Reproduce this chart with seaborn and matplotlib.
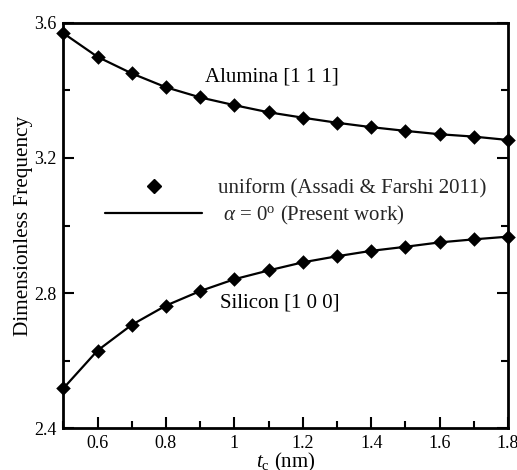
import matplotlib
matplotlib.use("Agg")
import matplotlib.pyplot as plt
import seaborn as sns
import pandas as pd
from matplotlib.lines import Line2D
from matplotlib.ticker import MultipleLocator

sns.set_theme(style="ticks")
plt.rcParams['font.family'] = ['Liberation Serif', 'DejaVu Serif']
plt.rcParams['mathtext.fontset'] = 'custom'
plt.rcParams['mathtext.rm'] = 'Liberation Serif'
plt.rcParams['mathtext.it'] = 'Liberation Serif:italic'

tc = [0.5, 0.6, 0.7, 0.8, 0.9, 1.0, 1.1, 1.2, 1.3, 1.4, 1.5, 1.6, 1.7, 1.8]
alumina = [3.569, 3.499, 3.450, 3.409, 3.379, 3.356, 3.335, 3.319, 3.304, 3.291, 3.280, 3.270, 3.263, 3.253]
silicon = [2.518, 2.630, 2.706, 2.763, 2.806, 2.841, 2.867, 2.891, 2.909, 2.925, 2.937, 2.950, 2.959, 2.967]

df = pd.DataFrame({"tc": tc * 2, "freq": alumina + silicon,
                   "mat": ["Alumina"] * len(tc) + ["Silicon"] * len(tc)})

fig = plt.figure(figsize=(5.17, 4.70), dpi=100)
ax = fig.add_axes([63.3 / 517, 1 - 428.3 / 470, (508 - 63.3) / 517, (428.3 - 22.7) / 470])

for m in ["Alumina", "Silicon"]:
    d = df[df.mat == m]
    sns.lineplot(data=d, x="tc", y="freq", ax=ax, color="black", lw=1.6)
    sns.scatterplot(data=d, x="tc", y="freq", ax=ax, color="black", marker="D",
                    s=55, edgecolor="black", linewidth=0, zorder=5, clip_on=False)

ax.set_xlim(0.5, 1.8)
ax.set_ylim(2.4, 3.6)
ax.xaxis.set_minor_locator(MultipleLocator(0.1))
ax.yaxis.set_minor_locator(MultipleLocator(0.2))
ax.set_xticks([0.6, 0.8, 1.0, 1.2, 1.4, 1.6, 1.8])
ax.set_xticklabels(["0.6", "0.8", "1", "1.2", "1.4", "1.6", "1.8"])
ax.set_yticks([2.4, 2.8, 3.2, 3.6])
ax.set_yticklabels(["2.4", "2.8", "3.2", "3.6"])
ax.tick_params(which="both", direction="in", top=False, right=True, labelsize=13,
               width=1.5, color="black", labelcolor="black")
ax.tick_params(which="major", length=8, pad=5)
ax.tick_params(which="minor", length=5)
for s in ax.spines.values():
    s.set_linewidth(2)
    s.set_color("black")

ax.set_xlabel(r"$\mathit{t}_{\rm c}$ (nm)", fontsize=15, labelpad=-1, color="black")
ax.set_ylabel("Dimensionless Frequency", fontsize=15.3, labelpad=1, color="black")

ax.text(0.914, 3.439, "Alumina [1 1 1]", fontsize=15, ha="left", va="center", color="black")
ax.text(0.958, 2.772, "Silicon [1 0 0]", fontsize=15, ha="left", va="center", color="black")

handles = [Line2D([], [], color="black", marker="D", ls="none", ms=7.5),
           Line2D([], [], color="black", lw=1.6)]
labels = ["uniform (Assadi & Farshi 2011)", r" $\alpha$ = 0$^{\rm o}$ (Present work)"]
ax.legend(handles, labels, loc="center left", bbox_to_anchor=(0.094, 0.556), frameon=False,
          fontsize=15, handlelength=4.65, handletextpad=0.77, labelspacing=0.25,
          borderaxespad=0, borderpad=0)

fig.savefig("out.png", dpi=100)
